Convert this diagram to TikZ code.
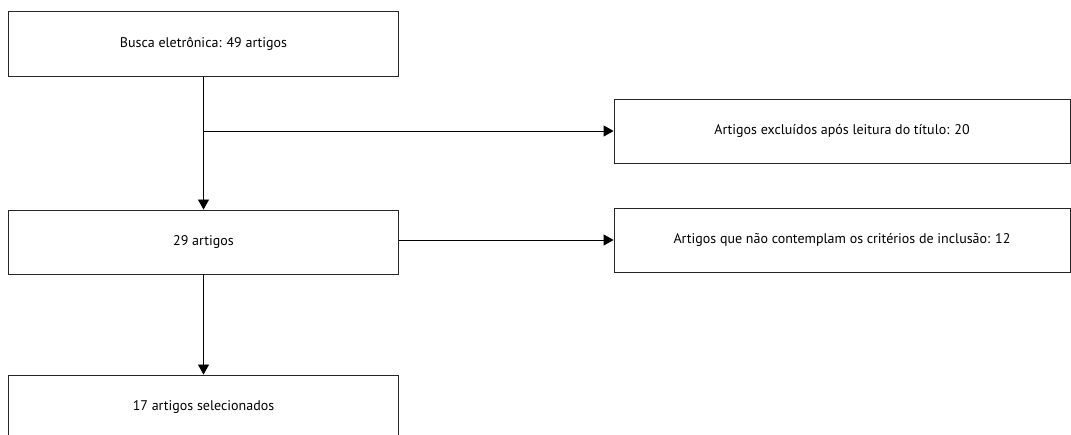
\documentclass[tikz,border=0pt]{standalone}
\usepackage{fontspec}
\setmainfont{PT Sans}
\usetikzlibrary{arrows.meta}
\begin{document}
\begin{tikzpicture}[x=1pt,y=-1pt,
  box/.style={draw=black!85, line width=0.9pt, rectangle, inner sep=0pt, font=\fontsize{14}{16}\selectfont},
  arr/.style={line width=0.9pt, -{Triangle[length=10pt,width=11pt]}}]
\useasboundingbox (0,0) rectangle (1071,435);
\node[box, minimum width=390, minimum height=65] (b1) at (203.5,44) {Busca eletrônica: 49 artigos};
\node[box, minimum width=456, minimum height=64] (b2) at (842,131) {Artigos excluídos após leitura do título: 20};
\node[box, minimum width=390, minimum height=64] (b3) at (203.5,242) {29 artigos};
\node[box, minimum width=456, minimum height=64] (b4) at (842,240) {Artigos que não contemplam os critérios de inclusão: 12};
\node[box, minimum width=390, minimum height=64] (b5) at (203.5,407) {17 artigos selecionados};
\coordinate (j) at (b1.south |- b2.west);
\draw[arr] (b1.south) -- (b3.north);
\draw[arr] (j) -- (b2.west);
\draw[arr] (b3.east |- b4.west) -- (b4.west);
\draw[arr] (b3.south) -- (b5.north);
\end{tikzpicture}
\end{document}
